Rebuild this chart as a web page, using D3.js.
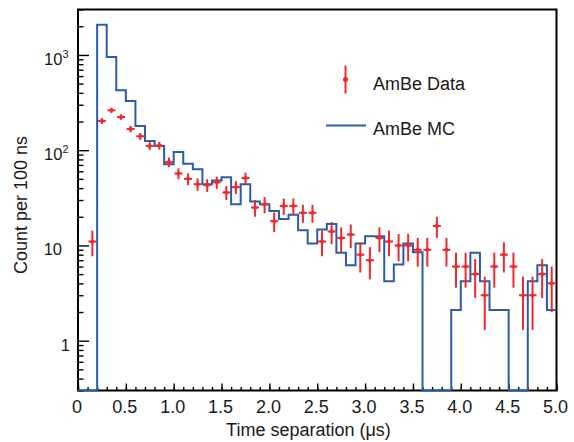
<!DOCTYPE html>
<html>
<head>
<meta charset="utf-8">
<script src="https://cdn.jsdelivr.net/npm/d3@7"></script>
<style>
  body { margin: 0; background: #fff; }
  text { font-family: "Liberation Sans", Arial, sans-serif; fill: #1a1a1a; }
</style>
</head>
<body>
<svg id="chart" width="574" height="442"></svg>
<script>
// AmBe data: bin centres (us), counts per 100 ns, statistical errors
const dataTime = [0.15, 0.25, 0.35, 0.45, 0.55, 0.65, 0.75, 0.85, 0.95, 1.05,
  1.15, 1.25, 1.35, 1.45, 1.55, 1.65, 1.75, 1.85, 1.95, 2.05,
  2.15, 2.25, 2.35, 2.45, 2.55, 2.65, 2.75, 2.85, 2.95, 3.05,
  3.15, 3.25, 3.35, 3.45, 3.55, 3.65, 3.75, 3.85, 3.95, 4.05,
  4.15, 4.25, 4.35, 4.45, 4.55, 4.65, 4.75, 4.85, 4.95];
const dataCount = [11, 203, 262, 223, 167, 140, 111, 112, 75, 57,
  50, 44, 43, 46, 36, 41, 51, 25, 27, 18,
  26, 26, 22, 22, 11, 14, 12, 13, 8, 7,
  12, 11, 10, 10, 9, 9, 16, 9, 6, 6,
  5, 3, 6, 8, 6, 3, 3, 5, 4];
const dataErr = [3.3, 14.2, 16.2, 14.9, 12.9, 11.8, 10.5, 10.6, 8.7, 7.5,
  7.1, 6.6, 6.6, 6.8, 6.0, 6.4, 7.1, 5.0, 5.2, 4.2,
  5.1, 5.1, 4.7, 4.7, 3.3, 3.7, 3.5, 3.6, 2.8, 2.6,
  3.5, 3.3, 3.2, 3.2, 3.0, 3.0, 4.0, 3.0, 2.4, 2.4,
  2.2, 1.7, 2.4, 2.8, 2.4, 1.7, 1.7, 2.2, 2.0];

// AmBe MC histogram: low bin edges (us) and contents
const mcEdges = [0.0, 0.1, 0.2, 0.3, 0.4, 0.5, 0.6, 0.7, 0.8, 0.9,
  1.0, 1.1, 1.2, 1.3, 1.4, 1.5, 1.6, 1.7, 1.8, 1.9,
  2.0, 2.1, 2.2, 2.3, 2.4, 2.5, 2.6, 2.7, 2.8, 2.9,
  3.0, 3.1, 3.2, 3.3, 3.4, 3.5, 3.6, 3.7, 3.8, 3.9,
  4.0, 4.1, 4.2, 4.3, 4.4, 4.5, 4.6, 4.7, 4.8, 4.9];
const mcCount = [0, 0, 2080, 950, 425, 328, 179, 125, 111, 71,
  96, 72, 63, 44, 48, 52, 27, 44, 29, 27,
  23, 19, 21, 14.4, 10.5, 14.7, 16.8, 8.4, 6.2, 10.5,
  12.5, 12.5, 4.2, 6.3, 10.5, 8.5, 0, 0, 0, 2.1,
  4.2, 8.4, 4.2, 2.1, 2.1, 0, 0, 4.2, 6.2, 2.1];

const xTickValues = [0, 0.5, 1.0, 1.5, 2.0, 2.5, 3.0, 3.5, 4.0, 4.5, 5.0];
const xTickLabels = ["0", "0.5", "1.0", "1.5", "2.0", "2.5", "3.0", "3.5", "4.0", "4.5", "5.0"];
const yTickValues = [1, 10, 100, 1000];
const yTickBase = ["1", "10", "10", "10"];
const yTickExp = ["", "", "2", "3"];
const legendLabels = ["AmBe Data", "AmBe MC"];

const width = 574, height = 442;
const margin = {left: 78, right: 17.5, top: 9.5, bottom: 51.5};
const red = "#ee2a2e", blue = "#2c5ba8";

const svg = d3.select("#chart");

let x = d3.scaleLinear()
    .domain([0, 5])
    .range([margin.left, width - margin.right]);

let y = d3.scaleLog()
    .domain([0.3, 3000])
    .range([height - margin.bottom, margin.top])
    .clamp(true);

        //frame
svg.append("rect")
    .attr("x", margin.left)
    .attr("y", margin.top)
    .attr("width", width - margin.left - margin.right)
    .attr("height", height - margin.top - margin.bottom)
    .attr("fill", "none")
    .attr("stroke", "#000")
    .attr("stroke-width", 2);

        //x ticks, drawn inside the frame
let xMinor = d3.range(0, 5.001, 0.1);
let xAxisMinor = svg.append("g")
    .attr("transform", `translate(0,${height - margin.bottom})`)
    .call(d3.axisBottom(x).tickValues(xMinor).tickSize(-3.5).tickFormat(""));
let xAxisMajor = svg.append("g")
    .attr("transform", `translate(0,${height - margin.bottom})`)
    .call(d3.axisBottom(x).tickValues(xTickValues).tickSize(-7).tickFormat(""));

        //y ticks, log decades and minors
let yMinor = [];
[0.1, 1, 10, 100, 1000].forEach(dec => {
    for (let i = 2; i <= 9; i++) {
        let v = i * dec;
        if (v >= 0.3 && v <= 3000) yMinor.push(v);
    }
});
let yAxisMinor = svg.append("g")
    .attr("transform", `translate(${margin.left},0)`)
    .call(d3.axisLeft(y).tickValues(yMinor).tickSize(-5.5).tickFormat(""));
let yAxisMajor = svg.append("g")
    .attr("transform", `translate(${margin.left},0)`)
    .call(d3.axisLeft(y).tickValues(yTickValues).tickSize(-11).tickFormat(""));

[xAxisMinor, xAxisMajor, yAxisMinor, yAxisMajor].forEach(g => {
    g.select(".domain").remove();
    g.selectAll(".tick line").attr("stroke", "#000").attr("stroke-width", 1.4);
});

        //tick labels
svg.append("g").selectAll("text")
    .data(xTickValues)
    .enter()
    .append("text")
        .attr("x", d => x(d) - 1)
        .attr("y", height - margin.bottom + 22)
        .attr("text-anchor", "middle")
        .attr("font-size", 18)
        .text((d, i) => xTickLabels[i]);

let yLab = svg.append("g").selectAll("text")
    .data(yTickValues)
    .enter()
    .append("text")
        .attr("x", (d, i) => yTickExp[i] ? 61.5 : (yTickBase[i] === "1" ? 70 : 62))
        .attr("y", d => y(d) + 10)
        .attr("text-anchor", (d, i) => yTickExp[i] ? "start" : "end")
        .attr("font-size", 16.5);
yLab.each(function (d, i) {
    let t = d3.select(this);
    if (yTickExp[i]) {
        t.attr("text-anchor", "end");
        t.append("tspan").text(yTickBase[i]);
        t.append("tspan").attr("font-size", 11).attr("dy", -7).text(yTickExp[i]);
        t.attr("x", 68.5);
    } else {
        t.text(yTickBase[i]);
    }
});

        //axis titles
svg.append("text")
    .attr("x", 308.5)
    .attr("y", 436)
    .attr("text-anchor", "middle")
    .attr("font-size", 18)
    .text("Time separation (\u03bcs)");

svg.append("text")
    .attr("transform", "translate(26.5,205) rotate(-90)")
    .attr("text-anchor", "middle")
    .attr("font-size", 18)
    .text("Count per 100 ns");

        //MC histogram as a step line
let mcPts = mcEdges.map((e, i) => [e, mcCount[i]]);
mcPts.push([5.0, mcCount[mcCount.length - 1]]);
let step = d3.line()
    .x(d => x(d[0]))
    .y(d => y(d[1] > 0 ? d[1] : 0.3))
    .curve(d3.curveStepAfter);
svg.append("path")
    .datum(mcPts)
    .attr("d", step)
    .attr("fill", "none")
    .attr("stroke", blue)
    .attr("stroke-width", 2);

        //data points with error bars
let pts = svg.append("g").selectAll("g")
    .data(dataTime.map((t, i) => ({t: t, v: dataCount[i], e: dataErr[i]})))
    .enter()
    .append("g")
        .attr("stroke", red)
        .attr("stroke-width", 2);
pts.append("line")
    .attr("x1", d => x(d.t)).attr("x2", d => x(d.t))
    .attr("y1", d => y(d.v - d.e)).attr("y2", d => y(d.v + d.e));
pts.append("line")
    .attr("x1", d => x(d.t) - 4).attr("x2", d => x(d.t) + 4)
    .attr("y1", d => y(d.v)).attr("y2", d => y(d.v));
pts.append("circle")
    .attr("cx", d => x(d.t))
    .attr("cy", d => y(d.v))
    .attr("r", 2)
    .attr("fill", red)
    .attr("stroke", "none");

        //legend
let leg = svg.append("g");
leg.append("line")
    .attr("x1", 345.5).attr("x2", 345.5)
    .attr("y1", 65.5).attr("y2", 93.5)
    .attr("stroke", red).attr("stroke-width", 2);
leg.append("circle")
    .attr("cx", 345.5).attr("cy", 79.5).attr("r", 2.5)
    .attr("fill", red);
leg.append("line")
    .attr("x1", 326).attr("x2", 366)
    .attr("y1", 125.5).attr("y2", 125.5)
    .attr("stroke", blue).attr("stroke-width", 2);
leg.selectAll("text")
    .data(legendLabels)
    .enter()
    .append("text")
        .attr("x", 373)
        .attr("y", (d, i) => i === 0 ? 89.5 : 135)
        .attr("font-size", 18)
        .text(d => d);
</script>
</body>
</html>
